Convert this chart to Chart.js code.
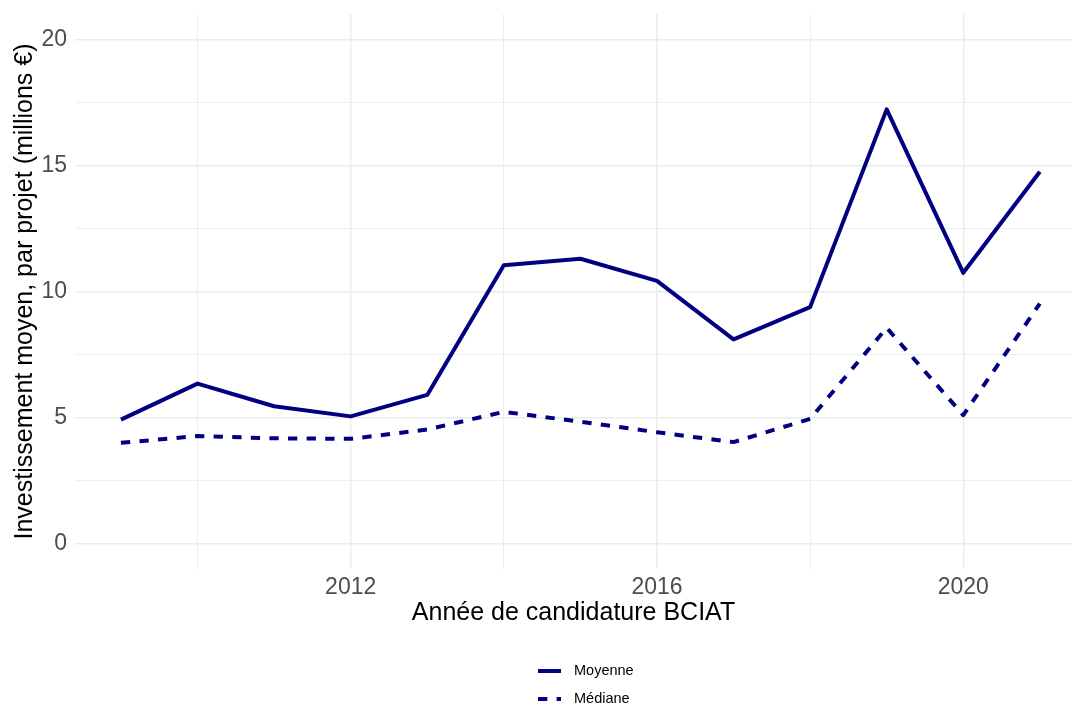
<!DOCTYPE html>
<html>
<head>
<meta charset="utf-8">
<script src="https://cdn.jsdelivr.net/npm/chart.js@4/dist/chart.umd.min.js"></script>
<style>
  body { margin: 0; background: #fff; overflow: hidden; }
  canvas { display: block; }
</style>
</head>
<body>
<canvas id="invChart" width="1072" height="704"></canvas>
<script>
// data
let years = [2009, 2010, 2011, 2012, 2013, 2014, 2015, 2016, 2017, 2018, 2019, 2020, 2021];
let moyenne = [4.92, 6.35, 5.45, 5.05, 5.9, 11.04, 11.3, 10.42, 8.1, 9.38, 17.22, 10.74, 14.75];
let mediane = [4.0, 4.27, 4.18, 4.16, 4.53, 5.23, 4.84, 4.42, 4.03, 4.95, 8.56, 5.1, 9.52];
let seriesNames = ['Moyenne', 'Médiane'];

let xMajor = [2012, 2016, 2020];
let xMinor = [2010, 2014, 2018];
let yMajor = [0, 5, 10, 15, 20];
let yMinor = [2.5, 7.5, 12.5, 17.5];

let navy = '#000080';
let gridColor = '#EBEBEB';
let fontFamily = '"Liberation Sans", Arial, sans-serif';

let toPoints = function (vals) {
    return years.map(function (y, i) { return {x: y, y: vals[i]}; });
};

let setTicks = function (major, minor) {
    return function (scale) {
        scale.ticks = major.concat(minor).sort(function (a, b) { return a - b; })
            .map(function (v) { return {value: v}; });
    };
};

let isMajor = function (major, v) {
    return major.indexOf(v) !== -1;
};

// ggplot-like vertical legend under the x title
let legendPlugin = {
    id: 'ggLegend',
    afterDraw: function (chart) {
        let c = chart.ctx;
        let rows = [671, 699];
        c.save();
        chart.data.datasets.forEach(function (ds, i) {
            let y = rows[i];
            c.beginPath();
            c.strokeStyle = ds.borderColor;
            c.lineWidth = 4;
            c.lineCap = 'butt';
            c.setLineDash(ds.borderDash || []);
            c.moveTo(538, y);
            c.lineTo(561, y);
            c.stroke();
            c.setLineDash([]);
            c.fillStyle = '#000';
            c.font = '14.5px ' + fontFamily;
            c.textAlign = 'left';
            c.textBaseline = 'middle';
            c.fillText(ds.label, 574, y);
        });
        c.restore();
    }
};

let ctx = document.getElementById('invChart').getContext('2d');

window.invChart = new Chart(ctx, {
    type: 'line',
    data: {
        datasets: [{
            label: seriesNames[0],
            data: toPoints(moyenne),
            borderColor: navy,
            backgroundColor: navy,
            borderWidth: 4,
            borderJoinStyle: 'round',
            borderCapStyle: 'butt',
            pointRadius: 0,
            tension: 0,
            fill: false
        }, {
            label: seriesNames[1],
            data: toPoints(mediane),
            borderColor: navy,
            backgroundColor: navy,
            borderWidth: 4,
            borderDash: [9.3, 9.3],
            borderJoinStyle: 'round',
            borderCapStyle: 'butt',
            pointRadius: 0,
            tension: 0,
            fill: false
        }]
    },
    options: {
        responsive: false,
        animation: false,
        layout: {padding: {left: 0, right: 0, top: 14, bottom: 76}},
        plugins: {
            legend: {display: false},
            tooltip: {enabled: false}
        },
        scales: {
            x: {
                type: 'linear',
                min: 2008.4,
                max: 2021.42,
                afterBuildTicks: setTicks(xMajor, xMinor),
                afterFit: function (scale) {
                    scale.height = 59;
                    scale.paddingLeft = 0;
                    scale.paddingRight = 0;
                },
                border: {display: false},
                grid: {
                    color: gridColor,
                    drawTicks: false,
                    lineWidth: function (c) { return isMajor(xMajor, c.tick.value) ? 1.4 : 0.8; }
                },
                ticks: {
                    autoSkip: false,
                    maxRotation: 0,
                    padding: 5,
                    color: '#4D4D4D',
                    font: {family: fontFamily, size: 23},
                    callback: function (v) { return isMajor(xMajor, v) ? String(v) : ''; }
                },
                title: {
                    display: true,
                    text: 'Année de candidature BCIAT',
                    color: '#000',
                    font: {family: fontFamily, size: 25},
                    padding: {top: 0, bottom: 0}
                }
            },
            y: {
                type: 'linear',
                min: -1,
                max: 21,
                afterBuildTicks: setTicks(yMajor, yMinor),
                afterFit: function (scale) {
                    scale.width = 75;
                    scale.paddingTop = 0;
                    scale.paddingBottom = 0;
                },
                border: {display: false},
                grid: {
                    color: gridColor,
                    drawTicks: false,
                    lineWidth: function (c) { return isMajor(yMajor, c.tick.value) ? 1.4 : 0.8; }
                },
                ticks: {
                    autoSkip: false,
                    padding: 8,
                    color: '#4D4D4D',
                    font: {family: fontFamily, size: 23},
                    callback: function (v) { return isMajor(yMajor, v) ? String(v) : ''; }
                },
                title: {
                    display: true,
                    text: 'Investissement moyen, par projet (millions €)',
                    color: '#000',
                    font: {family: fontFamily, size: 25},
                    padding: {top: 10, bottom: 0}
                }
            }
        }
    },
    plugins: [legendPlugin]
});
</script>
</body>
</html>
